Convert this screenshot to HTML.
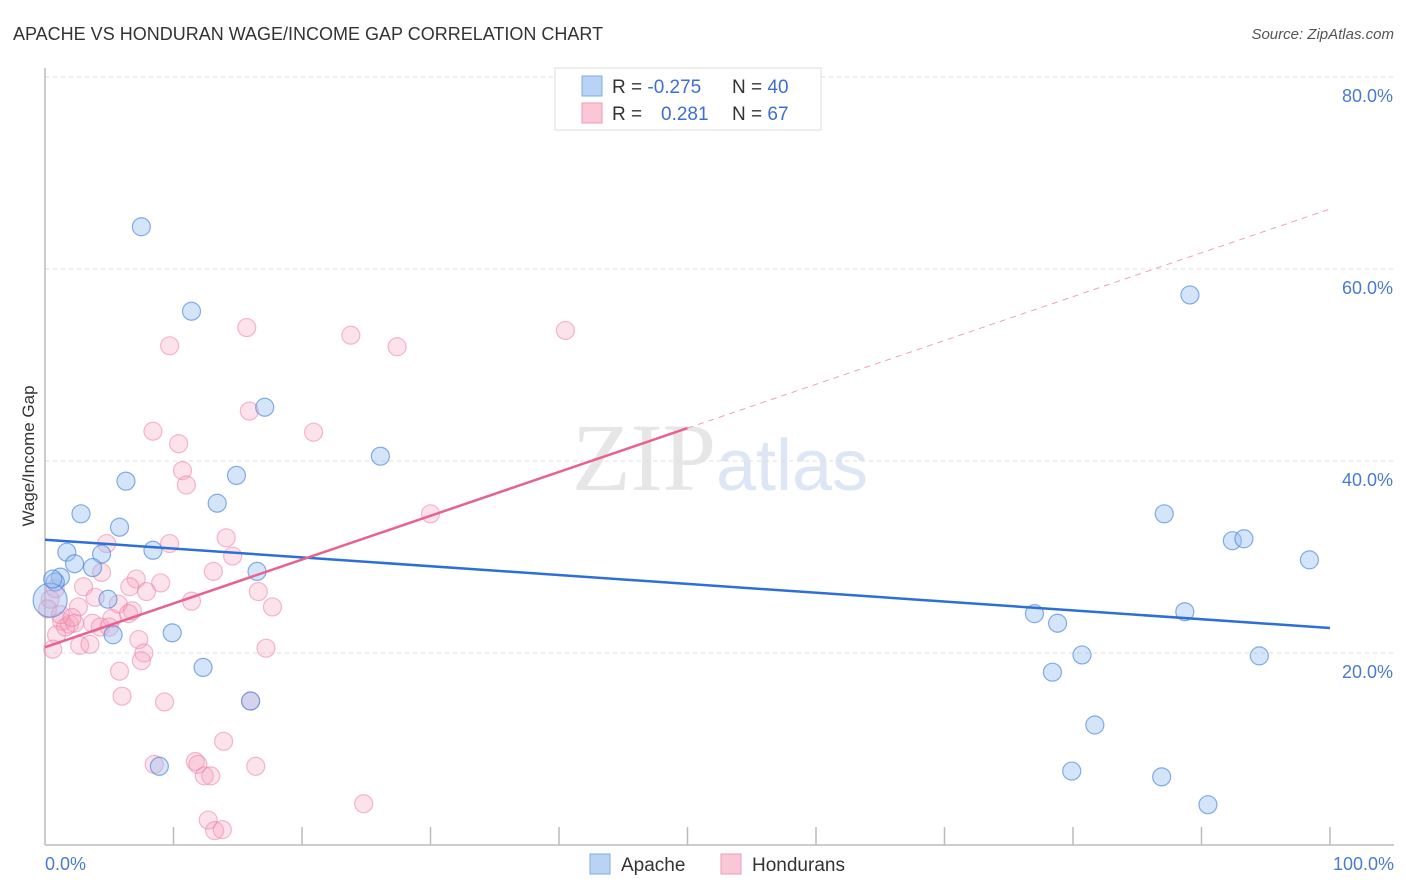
<!DOCTYPE html>
<html><head><meta charset="utf-8"><style>
body{margin:0;background:#fff;font-family:"Liberation Sans",sans-serif;}
svg{display:block}
</style></head><body>
<svg id="chart" width="1406" height="892">
<text x="13" y="40" font-size="18" fill="#333">APACHE VS HONDURAN WAGE/INCOME GAP CORRELATION CHART</text>
<text x="1394" y="39" font-size="15" fill="#555" font-style="italic" text-anchor="end">Source: ZipAtlas.com</text>
<text x="720" y="490" font-size="96" fill="#e6e6e6" text-anchor="middle" font-family="Liberation Serif,serif">ZIP<tspan fill="#dce6f4" font-family="Liberation Sans,sans-serif" font-size="72">atlas</tspan></text>
<g id="grid"></g>
<g id="axes"></g>
<g id="pts"></g>
<g id="lines"></g>
<text transform="translate(34,456) rotate(-90)" font-size="17" fill="#333" text-anchor="middle">Wage/Income Gap</text>
<text x="45" y="870" font-size="18" fill="#4a7bd0">0.0%</text>
<text x="1394" y="870" font-size="18" fill="#4a7bd0" text-anchor="end">100.0%</text>
<g>
<rect x="555" y="68" width="266" height="62" fill="#fff" stroke="#ddd"/>
<rect x="582" y="76" width="20" height="20" fill="#b8d3f5" stroke="#7fa8e0"/>
<rect x="582" y="103" width="20" height="20" fill="#fac7d6" stroke="#f09ab5"/>
<text x="612" y="93" font-size="19" fill="#333">R = <tspan fill="#3d6fd0">-0.275</tspan></text>
<text x="732" y="93" font-size="19" fill="#333">N = <tspan fill="#3d6fd0">40</tspan></text>
<text x="612" y="120" font-size="19" fill="#333">R = <tspan fill="#3d6fd0" x="661">0.281</tspan></text>
<text x="732" y="120" font-size="19" fill="#333">N = <tspan fill="#3d6fd0">67</tspan></text>
</g>
<g>
<rect x="590" y="854" width="20" height="20" fill="#b8d3f5" stroke="#7fa8e0"/>
<text x="621" y="871" font-size="19" fill="#333">Apache</text>
<rect x="721" y="854" width="20" height="20" fill="#fac7d6" stroke="#f09ab5"/>
<text x="752" y="871" font-size="19" fill="#333">Hondurans</text>
</g>
</svg>
<script>
const yTicks=[20,40,60,80];
const yTickLabels=["20.0%","40.0%","60.0%","80.0%"];
const xTicks=[10,20,30,40,50,60,70,80,90,100];
const apacheX=[7.5,11.4,17.1,26.1,6.3,14.9,2.8,13.4,5.8,1.7,8.4,4.4,2.3,3.7,1.2,0.8,16.5,4.9,5.3,9.9,12.3,16,8.9,0.4,89.1,87.1,92.4,93.3,98.4,77,78.8,88.7,80.7,78.4,94.5,81.7,79.9,86.9,90.5,0.6];
const apacheY=[64.4,55.6,45.6,40.5,37.9,38.5,34.5,35.6,33.1,30.5,30.7,30.3,29.3,28.9,27.9,27.4,28.5,25.6,21.9,22.1,18.5,15,8.2,25.5,57.3,34.5,31.7,31.9,29.7,24.1,23.1,24.3,19.8,18,19.7,12.5,7.7,7.1,4.2,27.7];
const apacheR=[9,9,9,9,9,9,9,9,9,9,9,9,9,9,9,9,9,9,9,9,9,9,9,17,9,9,9,9,9,9,9,9,9,9,9,9,9,9,9,9];
const hondX=[9.7,15.7,23.8,27.4,40.5,8.4,10.4,15.9,20.9,10.7,11,30,14.1,9.7,4.8,14.6,13.1,4.4,7.1,9,6.6,3,7.9,16.6,3.9,11.4,17.7,2.6,5.7,6.8,6.5,5.2,1.3,1.9,2.3,1.6,3.7,0.9,2.7,3.5,7.3,7.7,17.2,0.6,7.5,5.8,6,9.3,16,13.9,8.5,11.7,11.9,12.4,12.9,16.4,24.8,12.7,13.2,13.8,0.4,0.2,0.8,4.3,1.2,2.1,5];
const hondY=[52,53.9,53.1,51.9,53.6,43.1,41.8,45.2,43,39,37.5,34.5,32,31.4,31.4,30.1,28.5,28.4,27.7,27.3,26.9,26.9,26.4,26.4,25.8,25.4,24.8,24.8,25.1,24.4,24.1,23.6,23.3,23,23.1,22.7,23.1,21.9,20.8,20.9,21.4,20,20.5,20.4,19.2,18.1,15.5,14.9,15,10.8,8.4,8.7,8.4,7.2,7.2,8.2,4.3,2.6,1.5,1.6,25.6,24.6,26.7,22.7,24,23.7,22.7];
const blueLine=[0,31.8,100,22.6];
const pinkLine=[0,20.6,50,66.25];
const NS="http://www.w3.org/2000/svg";
const X=v=>45+12.85*v, Y=v=>845-9.6*v;
function mk(t,a,p){const e=document.createElementNS(NS,t);for(const k in a)e.setAttribute(k,a[k]);document.getElementById(p).appendChild(e);return e;}
yTicks.forEach((t,i)=>{
 const g=mk('line',{x1:45,x2:1394,y1:Y(t),y2:Y(t),stroke:'#ddd','stroke-dasharray':'4,4'},'grid');
 
 
 const l=mk('text',{x:1393,y:Y(t)+25,'font-size':18,fill:'#4a7bd0','text-anchor':'end'},'grid');
 l.textContent=yTickLabels[i];
 
 
});
const ax=mk('line',{x1:45,x2:1394,y1:845,y2:845,stroke:'#bbb','stroke-width':1.5},'axes');


const ay=mk('line',{x1:45,x2:45,y1:68,y2:845,stroke:'#bbb','stroke-width':1.5},'axes');


xTicks.forEach(t=>{
 const e=mk('line',{x1:X(t),x2:X(t),y1:827,y2:845,stroke:'#bbb','stroke-width':1.5},'axes');
 
 
});
hondX.forEach((x,i)=>{
 const c=mk('circle',{cx:X(x),cy:Y(hondY[i]),r:9,fill:'rgba(246,160,188,0.3)',stroke:'rgba(236,130,165,0.55)','stroke-width':1.2},'pts');
 
 
});
apacheX.forEach((x,i)=>{
 const c=mk('circle',{cx:X(x),cy:Y(apacheY[i]),r:apacheR[i],fill:'rgba(150,190,240,0.4)',stroke:'rgba(70,130,220,0.65)','stroke-width':1.2},'pts');
 
 
});
const bl=mk('line',{x1:X(blueLine[0]),y1:Y(blueLine[1]),x2:X(blueLine[2]),y2:Y(blueLine[3]),stroke:'#2c6fd6','stroke-width':2.5},'lines');


const slope=(pinkLine[3]-pinkLine[1])/(100);
const pl=mk('line',{x1:X(0),y1:Y(pinkLine[1]),x2:X(pinkLine[2]),y2:Y(pinkLine[1]+slope*pinkLine[2]),stroke:'#e8628e','stroke-width':2.5},'lines');


const pd=mk('line',{x1:X(pinkLine[2]),y1:Y(pinkLine[1]+slope*pinkLine[2]),x2:X(100),y2:Y(pinkLine[3]),stroke:'#eea0b8','stroke-width':1,'stroke-dasharray':'6,5'},'lines');


</script>
</body></html>
